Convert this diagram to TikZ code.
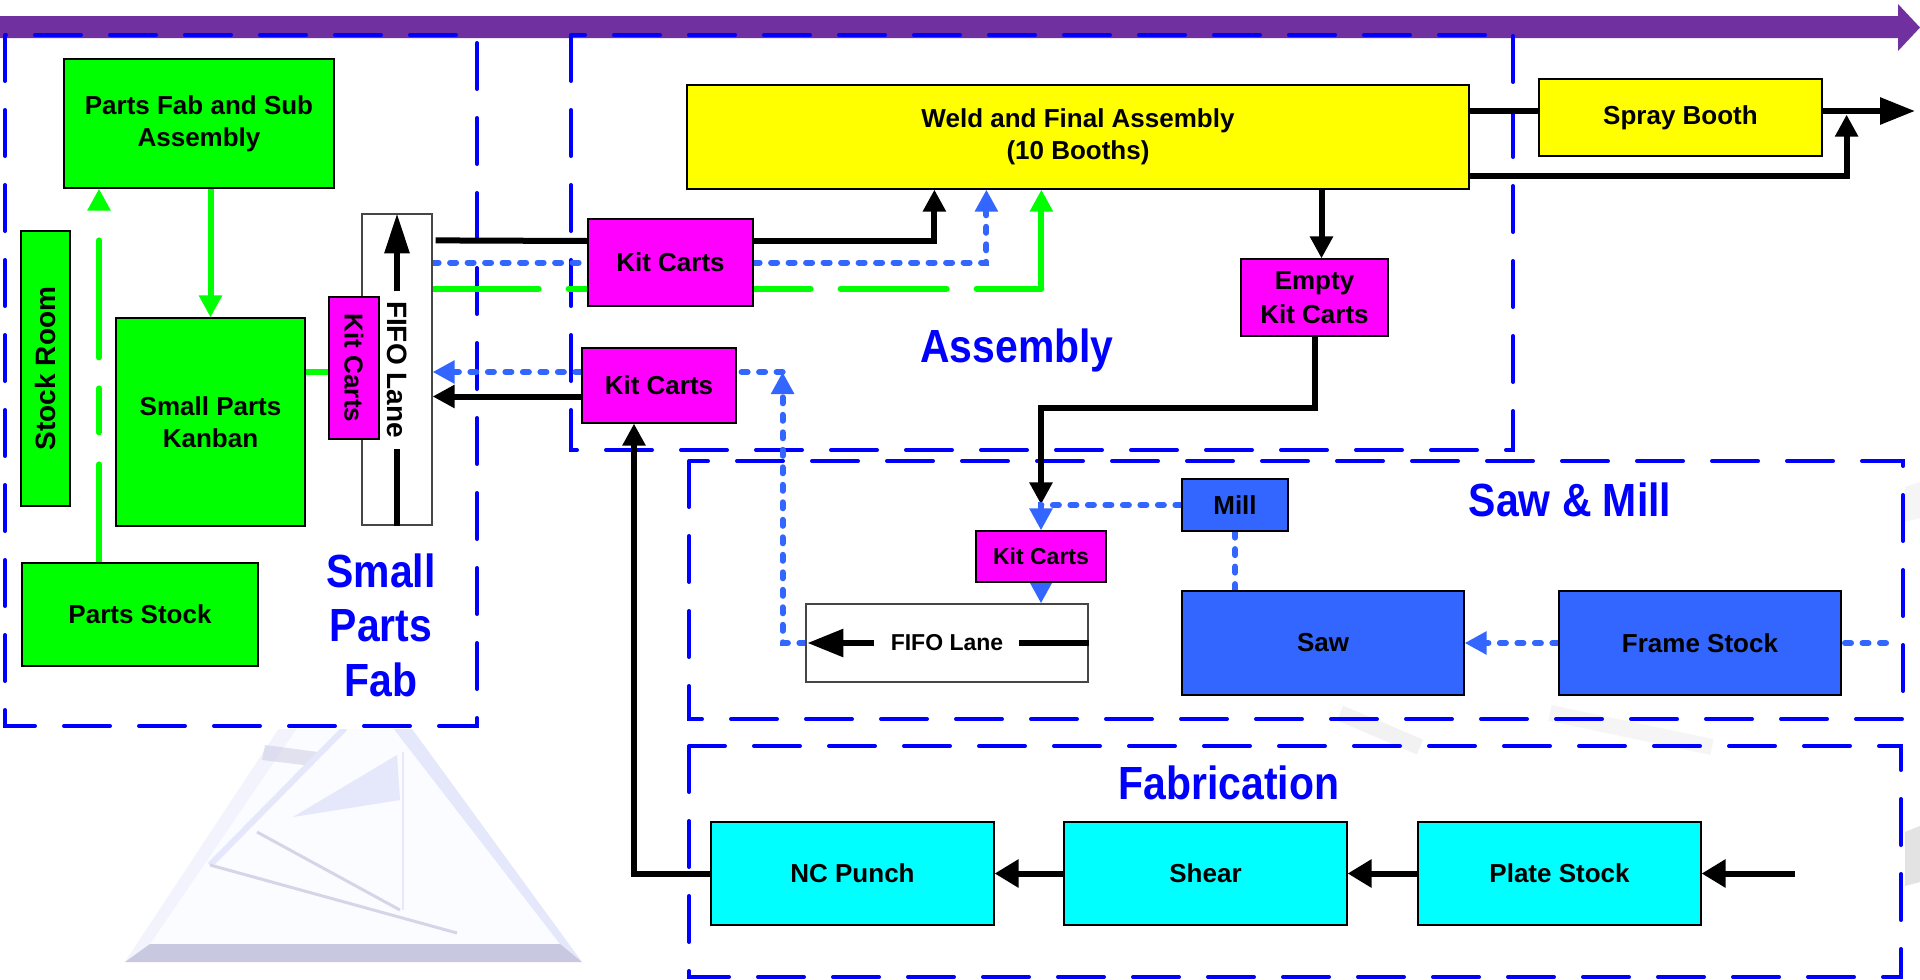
\documentclass[tikz,border=0pt]{standalone}
\usepackage{fontspec}
\usepackage{graphicx}
\setmainfont{Liberation Sans}
\newfontfamily\labelfont{Liberation Sans}[FakeStretch=0.88]
\usetikzlibrary{arrows.meta,calc}
\pgfdeclarelayer{bg}
\pgfsetlayers{bg,main}

\definecolor{purp}{RGB}{112,48,160}
\definecolor{zoneblue}{RGB}{0,0,255}
\definecolor{dotblue}{RGB}{51,102,255}
\definecolor{nodeblue}{RGB}{51,102,255}
\definecolor{grn}{RGB}{0,255,0}
\definecolor{mag}{RGB}{255,0,255}
\definecolor{yel}{RGB}{255,255,0}
\definecolor{cyn}{RGB}{0,255,255}
\definecolor{wmface}{RGB}{251,252,255}
\definecolor{wmbase}{RGB}{200,200,225}
\definecolor{wmedge}{RGB}{228,232,250}
\definecolor{wmedgel}{RGB}{242,243,252}
\definecolor{wmline}{RGB}{212,214,232}
\definecolor{fifogray}{RGB}{70,70,70}

\tikzset{
  nbox/.style={draw=black, line width=1.2pt, inner sep=0pt, align=center,
    font=\bfseries\fontsize{26}{32}\selectfont},
  fifobox/.style={nbox, draw=fifogray, fill=white},
  zone/.style={draw=zoneblue, line width=4pt, dash pattern=on 46pt off 29pt, line cap=round},
  zonelabel/.style={text=zoneblue, inner sep=0pt, align=center,
    font=\labelfont\bfseries\fontsize{46.5}{54.5}\selectfont},
  blk/.style={draw=black, line width=6pt},
  dotline/.style={draw=dotblue, line width=6pt, dash pattern=on 6pt off 11.5pt, line cap=round},
  gline/.style={draw=grn, line width=6pt},
  gdash/.style={draw=grn, line width=6pt, dash pattern=on 106pt off 30pt, line cap=round},
  arr/.style={-{Triangle[length=22pt,width=22pt]}},
  arrbig/.style={-{Triangle[length=24pt,width=27pt]}},
}

\begin{document}
\begin{tikzpicture}[x=1pt,y=-1pt]
\useasboundingbox (0,0) rectangle (1920,980);

% ---- process boxes ----
\node[nbox, fill=grn, minimum width=270pt, minimum height=129pt] (pfsa) at (199,123.5) {Parts Fab and Sub\\Assembly};
\node[nbox, fill=grn, minimum width=49pt, minimum height=275pt] (stock) at (45.5,368.5) {\rotatebox{90}{\fontsize{28}{32}\selectfont Stock Room}};
\node[nbox, fill=grn, minimum width=189pt, minimum height=208pt] (kanban) at (210.5,422) {Small Parts\\Kanban};
\node[nbox, fill=grn, minimum width=236pt, minimum height=103pt] (pstock) at (140,614.5) {Parts Stock};
\node[fifobox, minimum width=70pt, minimum height=311pt] (fifo1) at (397,369.5) {\rotatebox{-90}{\fontsize{28}{32}\selectfont FIFO Lane}};
\node[nbox, fill=mag, minimum width=50pt, minimum height=142pt] (kcv) at (354,368) {\rotatebox{-90}{Kit Carts}};
\node[nbox, fill=mag, minimum width=165pt, minimum height=87pt] (kc1) at (670.5,262.5) {Kit Carts};
\node[nbox, fill=mag, minimum width=154pt, minimum height=75pt] (kc2) at (659,385.5) {Kit Carts};
\node[nbox, fill=yel, minimum width=782pt, minimum height=104pt] (weld) at (1078,137) {Weld and Final Assembly\\(10 Booths)};
\node[nbox, fill=yel, minimum width=283pt, minimum height=77pt] (spray) at (1680.5,117.5) {Spray Booth};
\node[nbox, fill=mag, minimum width=147pt, minimum height=77pt, font=\bfseries\fontsize{26}{34}\selectfont] (ekc) at (1314.5,297.5) {Empty\\Kit Carts};
\node[nbox, fill=nodeblue, minimum width=106pt, minimum height=52pt] (mill) at (1235,505) {Mill};
\node[nbox, fill=mag, minimum width=130pt, minimum height=51pt, font=\bfseries\fontsize{23}{28}\selectfont] (kc3) at (1041,556.5) {Kit Carts};
\node[fifobox, minimum width=282pt, minimum height=78pt, font=\bfseries\fontsize{23}{28}\selectfont] (fifo2) at (947,643) {FIFO Lane};
\node[nbox, fill=nodeblue, minimum width=282pt, minimum height=104pt] (saw) at (1323,643) {Saw};
\node[nbox, fill=nodeblue, minimum width=282pt, minimum height=104pt] (frame) at (1700,643) {Frame Stock};
\node[nbox, fill=cyn, minimum width=283pt, minimum height=103pt] (ncp) at (852.5,873.5) {NC Punch};
\node[nbox, fill=cyn, minimum width=283pt, minimum height=103pt] (shear) at (1205.5,873.5) {Shear};
\node[nbox, fill=cyn, minimum width=283pt, minimum height=103pt] (plate) at (1559.5,873.5) {Plate Stock};

% ---- zone titles ----
\node[zonelabel, anchor=base] (lasm) at (1017,362) {Assembly};
\node[zonelabel, anchor=base] (lsaw) at (1570,516) {Saw \& Mill};
\node[zonelabel, anchor=base] (lfab) at (1229,799) {Fabrication};
\node[zonelabel] (lspf) at (381,625) {Small\\Parts\\Fab};

% ---- lane arrows inside the FIFO boxes ----
\draw[blk] (fifo1.south) -- ++(0,-77);
\draw[blk,-{Triangle[length=40pt,width=24pt]}] ($(fifo1.north)+(0,78)$) -- (fifo1.north);
\draw[blk] (fifo2.east) -- ++(-70,0);
\draw[blk,-{Triangle[length=36pt,width=27pt]}] ($(fifo2.west)+(69,0)$) -- ($(fifo2.west)+(2,0)$);

\begin{pgfonlayer}{bg}
\fill[white] (0,0) rectangle (1920,980);

% faint logo in the lower left
\begin{scope}
  \clip (0,729) rectangle (700,980);
  \fill[wmface] (342,633) -- (582,962) -- (125,962) -- cycle;
  \fill[wmedgel] (342,633) -- (125,962) -- (150,944) -- (342,662) -- cycle;
  \fill[wmedge] (342,633) -- (582,962) -- (560,944) -- (342,662) -- cycle;
  \fill[wmbase] (125,962) -- (582,962) -- (560,944) -- (150,944) -- cycle;
  \fill[wmedge] (293,817) -- (397,755) -- (400,800) -- cycle;
  \fill[wmbase, opacity=0.5] (265,745) -- (318,752) -- (312,766) -- (262,760) -- cycle;
  \draw[wmedge, line width=6pt] (210,865) -- (345,728);
  \draw[wmline, line width=3pt] (210,865) -- (457,933);
  \draw[wmline, line width=3pt] (257,832) -- (400,910);
  \draw[wmedge, line width=2.5pt] (403,752) -- (403,910);
\end{scope}
\draw[gray!10, line width=16pt] (1340,713) -- (1420,747);
\draw[gray!8, line width=16pt] (1550,713) -- (1712,747);
\fill[gray!8] (1905,487) -- (1920,482) -- (1920,518) -- (1905,522) -- cycle;
\fill[gray!22] (1905,832) -- (1920,826) -- (1920,882) -- (1905,886) -- cycle;

% flow direction arrow
\fill[purp] (0,16) -- (1898,16) -- (1898,4) -- (1920,27.5) -- (1898,51) -- (1898,38) -- (0,38) -- cycle;

% zones
\draw[zone] (5,35) rectangle (477,726);
\draw[zone] (571,35) rectangle (1513,450);
\draw[zone] (689,461) rectangle (1903,719);
\draw[zone] (689,746) rectangle (1901,977);

% ---- small parts fab ----
\draw[gline,arr] (kanban.north |- pfsa.south) -- (kanban.north);
\coordinate (gs) at ($(pstock.north)+(-41,0)$);
\draw[gline,arr,line cap=round,dash pattern=on 98pt off 32pt on 44pt off 31pt on 117pt off 60pt] (gs) -- (gs |- pfsa.south);
\draw[gline] ($(kanban.east |- kcv.west)+(0,4)$) -- ($(kcv.west)+(0,4)$);

% ---- kit carts into weld ----
\draw[blk] ($(fifo1.east |- kc1.north)+(3,22)$) -- ($(kc1.west)+(0,-21.5)$);
\draw[blk,arr] ($(kc1.east)+(0,-21.5)$) -| ($(weld.south west)+(248,0)$);
\draw[dotline] (fifo1.east |- kc1.west) -- (kc1.west);
\draw[dotline,arr] (kc1.east) -| ($(weld.south west)+(300,0)$);
\coordinate (gc) at ($(weld.south west)+(355,99)$);
\draw[gdash] (fifo1.east |- gc) -- (gc);
\draw[gline,arr] (gc) -- (gc |- weld.south);

% ---- weld to spray booth and out ----
\draw[blk] ($(weld.east |- spray.west)+(0,-6.5)$) -- ($(spray.west)+(0,-6.5)$);
\coordinate (out) at (1915,111);
\draw[blk,-{Triangle[length=35pt,width=26pt]}] ($(spray.east)+(0,-6.5)$) -- (out);
\draw[blk,arr] ($(weld.east)+(0,39)$) -| ($(spray.south east)+(24,-42)$);

% ---- empty kit carts return ----
\draw[blk,arr] ($(weld.south -| ekc.north)+(7,0)$) -- ($(ekc.north)+(7,0)$);
\draw[blk,arr] (ekc.south) -- ++(0,71) -| ($(kc3.north)+(0,-26)$);

% ---- saw & mill ----
\draw[dotline,arr] (mill.west) -| (kc3.north);
\draw[dotline] (mill.south) -- (mill.south |- saw.north);
\draw[dotline,arr] (kc3.south) -- (kc3.south |- fifo2.north);
\draw[dotline,arr] (frame.west) -- (saw.east);
\coordinate (fsin) at (1886,643);
\draw[dotline] (fsin) -- (frame.east);
\coordinate (kcin) at ($(kc2.east)+(46,-13.5)$);
\draw[dotline,arr] (fifo2.west) -| (kcin);
\draw[dotline] (kcin) -- (kc2.east |- kcin);
\draw[dotline,arr] (kc2.west |- kcin) -- (fifo1.east |- kcin);
\draw[blk,arr] ($(kc2.west)+(0,11)$) -- ($(fifo1.east |- kc2.west)+(0,11)$);

% ---- fabrication ----
\draw[blk,arr] (ncp.west) -| ($(kc2.south)+(-25,0)$);
\draw[blk,arrbig] (shear.west) -- (ncp.east);
\draw[blk,arrbig] (plate.west) -- (shear.east);
\coordinate (psin) at (1795,873.5);
\draw[blk,arrbig] (psin) -- (plate.east);
\end{pgfonlayer}
\end{tikzpicture}
\end{document}
